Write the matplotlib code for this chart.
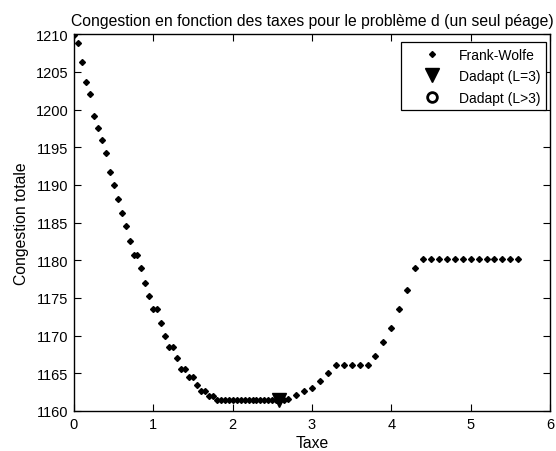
import numpy as np
import matplotlib
matplotlib.use("Agg")
import matplotlib.pyplot as plt

plt.rcParams['font.family'] = ['Liberation Sans', 'DejaVu Sans']

# Frank-Wolfe: tax step 0.05 up to 2.7, then 0.1 up to 5.6
taxe_fw = [0.00, 0.05, 0.10, 0.15, 0.20, 0.25, 0.30, 0.35, 0.40, 0.45,
           0.50, 0.55, 0.60, 0.65, 0.70, 0.75, 0.80, 0.85, 0.90, 0.95,
           1.00, 1.05, 1.10, 1.15, 1.20, 1.25, 1.30, 1.35, 1.40, 1.45,
           1.50, 1.55, 1.60, 1.65, 1.70, 1.75, 1.80, 1.85, 1.90, 1.95,
           2.00, 2.05, 2.10, 2.15, 2.20, 2.25, 2.30, 2.35, 2.40, 2.45,
           2.50, 2.55, 2.60, 2.65, 2.70,
           2.8, 2.9, 3.0, 3.1, 3.2, 3.3, 3.4, 3.5, 3.6, 3.7,
           3.8, 3.9, 4.0, 4.1, 4.2, 4.3, 4.4, 4.5, 4.6, 4.7,
           4.8, 4.9, 5.0, 5.1, 5.2, 5.3, 5.4, 5.5, 5.6]
congestion_fw = [1209.9, 1208.9, 1206.3, 1203.7, 1202.1, 1199.2, 1197.6, 1196.0, 1194.3, 1191.7,
                 1190.0, 1188.2, 1186.3, 1184.5, 1182.6, 1180.7, 1180.7, 1179.0, 1177.0, 1175.2,
                 1173.5, 1173.5, 1171.7, 1170.0, 1168.5, 1168.5, 1167.0, 1165.6, 1165.6, 1164.5,
                 1164.5, 1163.4, 1162.6, 1162.6, 1162.0, 1162.0, 1161.5, 1161.5, 1161.5, 1161.5,
                 1161.5, 1161.5, 1161.5, 1161.5, 1161.5, 1161.5, 1161.5, 1161.5, 1161.5, 1161.5,
                 1161.5, 1161.5, 1161.5, 1161.5, 1161.6,
                 1162.1, 1162.6, 1163.1, 1164.0, 1165.0, 1166.1, 1166.1, 1166.1, 1166.1, 1166.1,
                 1167.3, 1169.1, 1171.0, 1173.5, 1176.0, 1179.0, 1180.2, 1180.2, 1180.2, 1180.2,
                 1180.2, 1180.2, 1180.2, 1180.2, 1180.2, 1180.2, 1180.2, 1180.2, 1180.2]

# Dadapt results
taxe_l3 = [2.59]
congestion_l3 = [1161.5]
taxe_lsup3 = []
congestion_lsup3 = []

xticks = [0, 1, 2, 3, 4, 5, 6]
yticks = [1160, 1165, 1170, 1175, 1180, 1185, 1190, 1195, 1200, 1205, 1210]

fig = plt.figure(figsize=(5.56, 4.52), dpi=100)
ax = fig.add_axes([74 / 556, 1 - 412 / 452, (550 - 74) / 556, (412 - 35.3) / 452])

ax.plot(taxe_fw, congestion_fw, linestyle='none', marker='D', markersize=3.0,
        color='black', label='Frank-Wolfe')
ax.plot(taxe_l3, congestion_l3, linestyle='none', marker='v', markersize=10,
        color='black', label='Dadapt (L=3)')
ax.plot(taxe_lsup3, congestion_lsup3, linestyle='none', marker='o', markersize=7,
        markerfacecolor='none', markeredgecolor='black', markeredgewidth=2.0,
        label='Dadapt (L>3)')

ax.set_xlim(0, 6)
ax.set_ylim(1160, 1210)
ax.set_xticks(xticks)
ax.set_yticks(yticks)
ax.tick_params(direction='in', length=5, width=0.8, top=True, right=True,
               labelsize=10.5, colors='black', pad=4)
for s in ax.spines.values():
    s.set_linewidth(1.0)
    s.set_color('black')

ax.set_title('Congestion en fonction des taxes pour le problème d (un seul péage)',
             fontsize=11.3, pad=7)
ax.set_xlabel('Taxe', fontsize=11.3, labelpad=3)
ax.set_ylabel('Congestion totale', fontsize=11.3, labelpad=5)

leg = ax.legend(loc='upper right', bbox_to_anchor=(0.9916, 0.9796), fontsize=10,
                frameon=True, fancybox=False, edgecolor='black', framealpha=1,
                borderpad=0.4, labelspacing=0.55, handlelength=3.7,
                handletextpad=0.1, borderaxespad=0, numpoints=1)
leg.get_frame().set_linewidth(0.9)

fig.savefig('out.png', dpi=100)
